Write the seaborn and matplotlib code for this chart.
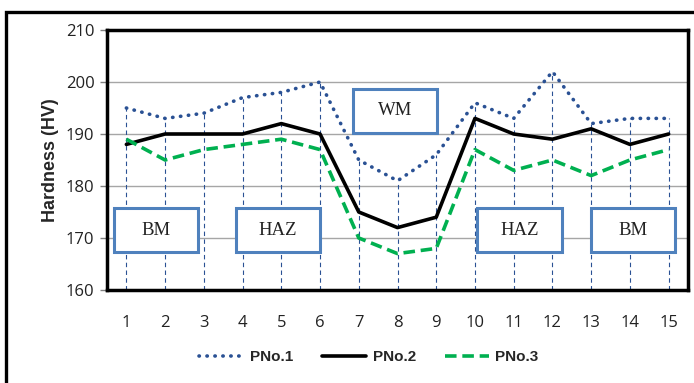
import matplotlib
matplotlib.use("Agg")
import matplotlib.pyplot as plt
import seaborn as sns
import pandas as pd
from matplotlib.patches import Rectangle
from matplotlib.lines import Line2D

positions = list(range(1, 16))
pno1 = [195, 193, 194, 197, 198, 200, 185, 181, 186, 196, 193, 202, 192, 193, 193]
pno2 = [188, 190, 190, 190, 192, 190, 175, 172, 174, 193, 190, 189, 191, 188, 190]
pno3 = [189, 185, 187, 188, 189, 187, 170, 167, 168, 187, 183, 185, 182, 185, 187]
series_names = ["PNo.1", "PNo.2", "PNo.3"]
zone_labels = ["BM", "HAZ", "WM", "HAZ", "BM"]
zone_centers = [1.77, 4.92, 7.94, 11.15, 14.08]
zone_y = [171.5, 171.5, 194.5, 171.5, 171.5]
yticks = [160, 170, 180, 190, 200, 210]

sns.set_theme(style="white")
plt.rcParams["font.family"] = ["Liberation Sans", "DejaVu Sans"]

W, H = 694, 383
fig = plt.figure(figsize=(W / 100, H / 100), dpi=100)
ax = fig.add_axes([107 / W, 1 - 290 / H, (688 - 107) / W, (290 - 30) / H])

df = pd.DataFrame({"Position": positions * 3,
                   "Hardness": pno1 + pno2 + pno3,
                   "Series": sum([[n] * 15 for n in series_names], [])})

colors = {"PNo.1": "#2A5194", "PNo.2": "#000000", "PNo.3": "#00B050"}
styles = {"PNo.1": (0, (0.1, 2.1)), "PNo.2": "-", "PNo.3": (0, (3.2, 1.6))}

# drop lines
for x, y in zip(positions, pno1):
    ax.plot([x, x], [160, y], color="#2A5194", lw=0.8, ls=(0, (4, 3)), zorder=1)

for name in series_names:
    sub = df[df["Series"] == name]
    sns.lineplot(data=sub, x="Position", y="Hardness", ax=ax, color=colors[name],
                 lw=2.6, label=name, zorder=3)
    ax.lines[-1].set_linestyle(styles[name])
    if name == "PNo.1":
        ax.lines[-1].set_dash_capstyle("round")

ax.set_xlim(0.5, 15.5)
ax.set_ylim(160, 210)
ax.set_yticks(yticks)
ax.set_xticks(positions)
ax.yaxis.grid(True, color="#A6A6A6", lw=1)
ax.set_axisbelow(True)
ax.tick_params(axis="y", left=True, length=5, width=1, color="#808080", pad=4)
ax.tick_params(axis="x", bottom=False, pad=12)
for lab in ax.get_xticklabels() + ax.get_yticklabels():
    lab.set_fontfamily(["Open Sans", "DejaVu Sans"])
    lab.set_fontsize(12)
    lab.set_color("#222222")
for s in ax.spines.values():
    s.set_visible(True)
    s.set_color("#000000")
    s.set_linewidth(2.5)
ax.set_xlabel("")
ax.set_ylabel("Hardness (HV)", fontsize=13, fontweight="bold", labelpad=5)

for lbl, cx, cy in zip(zone_labels, zone_centers, zone_y):
    ax.add_patch(Rectangle((cx - 1.085, cy - 4.23), 2.17, 8.46, fc="white",
                           ec="#4F81BD", lw=2.2, zorder=4))
    ax.text(cx, cy, lbl, ha="center", va="center", fontsize=13.5,
            family=["Liberation Serif", "DejaVu Serif"], color="#222222", zorder=5)

ax.legend_.remove()
handles = ax.lines[-3:]
fig.legend(handles, series_names, loc="center", bbox_to_anchor=(369 / W, 1 - 357 / H),
           ncol=3, frameon=False, handlelength=2.9, columnspacing=1.9,
           handletextpad=0.4, prop={"weight": "bold", "size": 11})

# outer frame (top and left edges visible; right/bottom are off the canvas)
fig.add_artist(Line2D([6 / W, 6 / W, 1.02], [-0.02, 1 - 12 / H, 1 - 12 / H],
                      transform=fig.transFigure, color="black", lw=2.4,
                      solid_joinstyle="miter"))

fig.savefig("out.png", dpi=100, facecolor="white")
